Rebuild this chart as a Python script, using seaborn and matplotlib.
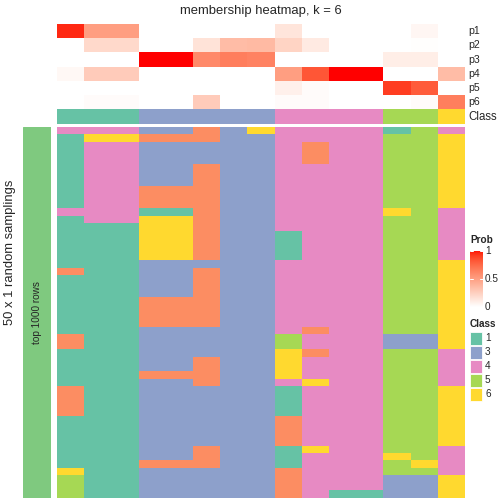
import numpy as np
import pandas as pd
import matplotlib
matplotlib.use("Agg")
import matplotlib.pyplot as plt
from matplotlib.colors import ListedColormap, LinearSegmentedColormap
from matplotlib.patches import Rectangle
import seaborn as sns

sns.set_theme(style="white")
plt.rcParams['font.family'] = ['Liberation Sans', 'DejaVu Sans']

# ---------------- data ----------------
columns = [f"s{i+1}" for i in range(15)]
prob_labels = ["p1", "p2", "p3", "p4", "p5", "p6"]
p1 = [0.95, 0.50, 0.50, 0, 0, 0, 0, 0, 0.14, 0, 0, 0, 0, 0.05, 0]
p2 = [0, 0.20, 0.20, 0, 0, 0.15, 0.35, 0.36, 0.23, 0.11, 0, 0, 0, 0.01, 0]
p3 = [0, 0, 0, 1.0, 1.0, 0.60, 0.65, 0.63, 0, 0, 0, 0, 0.09, 0.09, 0]
p4 = [0.04, 0.27, 0.27, 0, 0, 0, 0, 0, 0.50, 0.82, 1.0, 1.0, 0, 0, 0.35]
p5 = [0, 0, 0, 0, 0, 0, 0, 0, 0.08, 0.02, 0, 0, 0.90, 0.80, 0]
p6 = [0, 0.02, 0.02, 0, 0, 0.27, 0, 0, 0.02, 0.02, 0, 0, 0, 0.02, 0.65]
consensus_class = [1, 1, 1, 3, 3, 3, 3, 3, 4, 4, 4, 4, 5, 5, 6]

# class of each column in each of the 50 random samplings (one string per row)
sampling_rows = [
    "444332364444154", "166222334444556", "144333334244556", "144333334244556",
    "144333334244556", "144332334444556", "144332334444556", "144332334444556",
    "144222334444556", "144222334444556", "144222334444556", "444112334444654",
    "144662334444554", "111662334444554", "111662331444554", "111662331444554",
    "111662331444554", "111662331444554", "111333334444556", "211332334444556",
    "111332334444556", "111332334444556", "111332334444556", "111222334444556",
    "111222334444556", "111222334444556", "111222334444556", "111333334244556",
    "211333335444336", "211333335444336", "111333336244554", "111332336444554",
    "111332336444554", "111222336444554", "111332334644554", "211333331444556",
    "211333331444556", "211333331444556", "211333331444556", "111333332444556",
    "111333332444556", "111333332444556", "111333332444556", "111332331644554",
    "111332331444654", "111222331444564", "611333332444554", "511333332444336",
    "511333332444336", "511333332411336",
]
legend_classes = ["1", "3", "4", "5", "6"]

# ---------------- colours ----------------
class_colors = {1: "#66C2A5", 2: "#FC8D62", 3: "#8DA0CB", 4: "#E78AC3",
                5: "#A6D854", 6: "#FFD92F"}
class_cmap = ListedColormap([class_colors[k] for k in range(1, 7)])


def srgb_to_lab(rgb):
    rgb = np.asarray(rgb, float)
    lin = np.where(rgb <= 0.04045, rgb / 12.92, ((rgb + 0.055) / 1.055) ** 2.4)
    M = np.array([[0.4124, 0.3576, 0.1805], [0.2126, 0.7152, 0.0722],
                  [0.0193, 0.1192, 0.9505]])
    xyz = M @ lin / np.array([0.95047, 1.0, 1.08883])
    f = np.where(xyz > 0.008856, np.cbrt(xyz), 7.787 * xyz + 16 / 116)
    return np.array([116 * f[1] - 16, 500 * (f[0] - f[1]), 200 * (f[1] - f[2])])


def lab_to_srgb(lab):
    L, a, b = lab
    fy = (L + 16) / 116
    fx = fy + a / 500
    fz = fy - b / 200
    f = np.array([fx, fy, fz])
    xyz = np.where(f ** 3 > 0.008856, f ** 3, (f - 16 / 116) / 7.787)
    xyz = xyz * np.array([0.95047, 1.0, 1.08883])
    Minv = np.array([[3.2406, -1.5372, -0.4986], [-0.9689, 1.8758, 0.0415],
                     [0.0557, -0.2040, 1.0570]])
    lin = np.clip(Minv @ xyz, 0, 1)
    rgb = np.where(lin <= 0.0031308, 12.92 * lin, 1.055 * lin ** (1 / 2.4) - 0.055)
    return np.clip(rgb, 0, 1)


lw, lr = srgb_to_lab([1, 1, 1]), srgb_to_lab([1, 0, 0])
ramp = [lab_to_srgb(lw + t * (lr - lw)) for t in np.linspace(0, 1, 256)]
prob_cmap = LinearSegmentedColormap.from_list("prob", ramp)

# ---------------- frames ----------------
prob_df = pd.DataFrame([p1, p2, p3, p4, p5, p6], index=prob_labels, columns=columns)
class_df = pd.DataFrame([consensus_class], index=["Class"], columns=columns)
samp_df = pd.DataFrame([[int(ch) for ch in r] for r in sampling_rows], columns=columns)

W = H = 504
fig = plt.figure(figsize=(7, 7), dpi=72)


def ax_px(x0, y0, x1, y1):
    ax = fig.add_axes([x0 / W, 1 - y1 / H, (x1 - x0) / W, (y1 - y0) / H])
    return ax


HX0, HX1 = 57, 465

ax_p = ax_px(HX0, 24, HX1, 109.3)
sns.heatmap(prob_df, cmap=prob_cmap, vmin=0, vmax=1, cbar=False, ax=ax_p,
            xticklabels=False, yticklabels=False)
ax_c = ax_px(HX0, 109.3, HX1, 123.5)
sns.heatmap(class_df, cmap=class_cmap, vmin=0.5, vmax=6.5, cbar=False, ax=ax_c,
            xticklabels=False, yticklabels=False)
ax_m = ax_px(HX0, 126.8, HX1, 497.5)
sns.heatmap(samp_df, cmap=class_cmap, vmin=0.5, vmax=6.5, cbar=False, ax=ax_m,
            xticklabels=False, yticklabels=False)
for ax in (ax_p, ax_c, ax_m):
    ax.set_xlabel("")
    ax.set_ylabel("")
    for s in ax.spines.values():
        s.set_visible(False)

# row labels
row_h = (109.3 - 24) / 6
for i, lab in enumerate(prob_labels):
    fig.text(468 / W, 1 - (24 + row_h * (i + 0.5)) / H, lab, fontsize=10.5,
             ha="left", va="center")
fig.text(468 / W, 1 - 116.5 / H, "Class", fontsize=11.5, ha="left", va="center")

# title
fig.text(261 / W, 1 - 11 / H, "membership heatmap, k = 6", fontsize=13,
         ha="center", va="center")

# left annotation bar
ax_l = ax_px(23, 126.8, 50.5, 497.5)
ax_l.add_patch(Rectangle((0, 0), 1, 1, color="#7FC97F", transform=ax_l.transAxes))
ax_l.set_xlim(0, 1)
ax_l.set_ylim(0, 1)
ax_l.axis("off")
ax_l.text(0.5, 0.5, "top 1000 rows", rotation=90, fontsize=10, ha="center",
          va="center", transform=ax_l.transAxes)
fig.text(10 / W, 1 - 252 / H, "50 x 1 random samplings", rotation=90, fontsize=13,
         ha="center", va="center")

# Prob legend
fig.text(470 / W, 1 - 240 / H, "Prob", fontsize=10, fontweight="bold",
         ha="left", va="center")
ax_cb = ax_px(470, 250.7, 482.5, 307.3)
grad = np.linspace(1, 0, 200).reshape(-1, 1)
ax_cb.imshow(grad, cmap=prob_cmap, vmin=0, vmax=1, aspect="auto",
             extent=[0, 1, 0, 1])
for v in (0.5, 1.0):
    ax_cb.plot([0, 0.2], [v, v], color="white", lw=1)
    ax_cb.plot([0.8, 1], [v, v], color="white", lw=1)
ax_cb.set_xlim(0, 1)
ax_cb.set_ylim(0, 1)
ax_cb.axis("off")
for v, t in [(1, "1"), (0.5, "0.5"), (0, "0")]:
    fig.text(485 / W, 1 - (307.3 - v * 56.6) / H, t, fontsize=10, ha="left",
             va="center")

# Class legend
fig.text(470 / W, 1 - 324 / H, "Class", fontsize=10, fontweight="bold",
         ha="left", va="center")
for i, lab in enumerate(legend_classes):
    yc = 338 + 14 * i
    fig.patches.append(Rectangle((470 / W, 1 - (yc + 6.5) / H), 12 / W, 13 / H,
                                 transform=fig.transFigure,
                                 facecolor=class_colors[int(lab)],
                                 edgecolor="white", lw=0.8))
    fig.text(485 / W, 1 - yc / H, lab, fontsize=10, ha="left", va="center")

fig.savefig("out.png", dpi=72)
